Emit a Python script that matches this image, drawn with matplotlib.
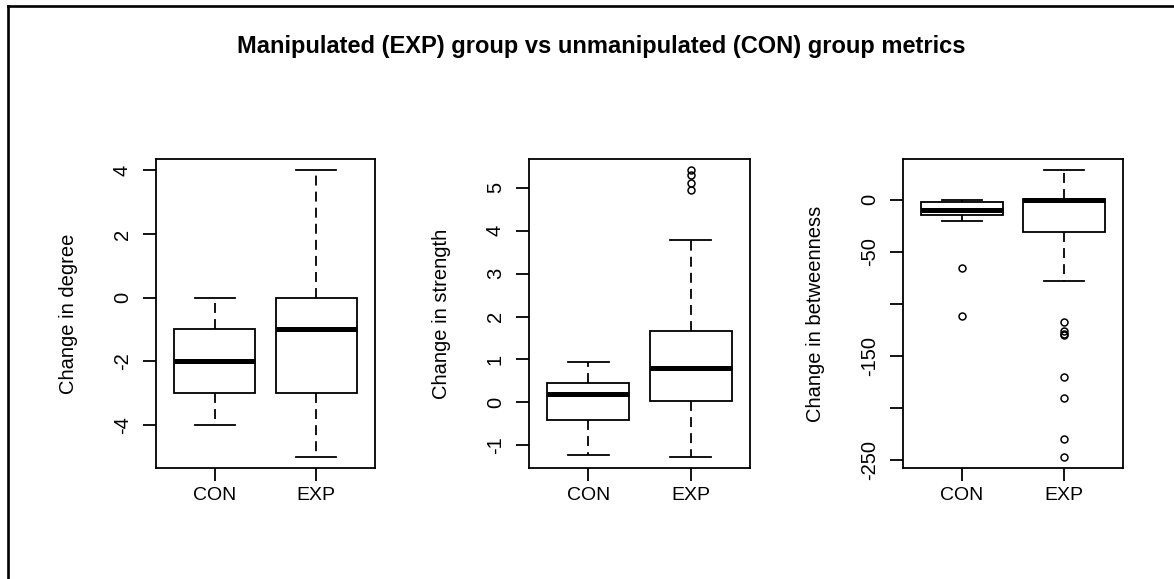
import matplotlib
matplotlib.use("Agg")
import matplotlib.pyplot as plt
from matplotlib.lines import Line2D

plt.rcParams['font.family'] = ['Liberation Sans', 'DejaVu Sans']

groups = ['CON', 'EXP']

# change in degree
degree_whislo = [-4, -5]
degree_q1 = [-3, -3]
degree_med = [-2, -1]
degree_q3 = [-1, 0]
degree_whishi = [0, 4]
degree_fliers = [[], []]
degree_ticks = [-4, -2, 0, 2, 4]
degree_ticklabels = ['-4', '-2', '0', '2', '4']

# change in strength
strength_whislo = [-1.22, -1.26]
strength_q1 = [-0.4, 0.03]
strength_med = [0.2, 0.8]
strength_q3 = [0.45, 1.67]
strength_whishi = [0.95, 3.78]
strength_fliers = [[], [4.95, 5.1, 5.3, 5.4]]
strength_ticks = [-1, 0, 1, 2, 3, 4, 5]
strength_ticklabels = ['-1', '0', '1', '2', '3', '4', '5']

# change in betweenness
betw_whislo = [-21, -78]
betw_q1 = [-15, -31]
betw_med = [-10, 0]
betw_q3 = [-2, 0.5]
betw_whishi = [0, 28]
betw_fliers = [[-66, -112], [-118, -126, -129, -130, -171, -191, -230, -247]]
betw_ticks = [-250, -200, -150, -100, -50, 0]
betw_ticklabels = ['-250', '', '-150', '', '-50', '0']

title = 'Manipulated (EXP) group vs unmanipulated (CON) group metrics'

W, H = 1174, 579
FS = 14.5
LW = 1.3


def panel(fig, left_px, width_px, whislo, q1, med, q3, whishi, fliers,
          ticks, ticklabels, ylabel):
    top_px, bot_px = 159, 468
    ax = fig.add_axes([left_px / W, 1 - bot_px / H, width_px / W,
                       (bot_px - top_px) / H])
    stats = []
    for i, g in enumerate(groups):
        stats.append(dict(label=g, whislo=whislo[i], q1=q1[i], med=med[i],
                          q3=q3[i], whishi=whishi[i], fliers=fliers[i]))
    ax.bxp(stats, positions=[1, 2], widths=0.8, capwidths=0.4,
           patch_artist=True,
           boxprops=dict(facecolor='white', edgecolor='black', linewidth=LW),
           medianprops=dict(color='black', linewidth=3.6, solid_capstyle='butt'),
           whiskerprops=dict(color='black', linewidth=LW,
                             linestyle=(0, (5.5, 3.4))),
           capprops=dict(color='black', linewidth=LW),
           flierprops=dict(marker='o', markersize=5, markerfacecolor='none',
                           markeredgecolor='black', markeredgewidth=1.1,
                           linestyle='none'))

    # R style limits: 4% padding around the data range
    values = list(whislo) + list(whishi) + [v for f in fliers for v in f]
    lo, hi = min(values), max(values)
    pad = 0.04 * (hi - lo)
    ax.set_ylim(lo - pad, hi + pad)
    ax.set_xlim(0.5 - 0.08, 2.5 + 0.08)

    ax.set_yticks(ticks)
    ax.set_yticklabels(ticklabels)
    ax.set_xticks([1, 2])
    ax.set_xticklabels(groups)
    ax.tick_params(axis='y', labelrotation=90, length=9.4, width=LW,
                   pad=8, labelsize=FS)
    ax.tick_params(axis='x', length=9.4, width=LW, pad=4, labelsize=14)
    for label in ax.get_yticklabels():
        label.set_verticalalignment('center')
    for s in ax.spines.values():
        s.set_linewidth(LW)
    ax.set_ylabel(ylabel, fontsize=FS)
    ax.yaxis.set_label_coords(-78 / width_px, 0.5)
    return ax


fig = plt.figure(figsize=(W / 100, H / 100), dpi=100)

panel(fig, 156, 219, degree_whislo, degree_q1, degree_med, degree_q3,
      degree_whishi, degree_fliers, degree_ticks, degree_ticklabels,
      'Change in degree')
panel(fig, 529, 221, strength_whislo, strength_q1, strength_med, strength_q3,
      strength_whishi, strength_fliers, strength_ticks, strength_ticklabels,
      'Change in strength')
panel(fig, 903, 220, betw_whislo, betw_q1, betw_med, betw_q3,
      betw_whishi, betw_fliers, betw_ticks, betw_ticklabels,
      'Change in betweenness')

fig.text(601 / W, 1 - 47 / H, title, ha='center', va='center',
         fontsize=17, fontweight='bold')

# outer frame along the top and left edges
fig.add_artist(Line2D([7.5 / W, 1], [1 - 5.5 / H, 1 - 5.5 / H],
                      color='black', linewidth=1.9, transform=fig.transFigure))
fig.add_artist(Line2D([7.5 / W, 7.5 / W], [0, 1 - 5.5 / H],
                      color='black', linewidth=1.9, transform=fig.transFigure))

fig.savefig('out.png', dpi=100)
